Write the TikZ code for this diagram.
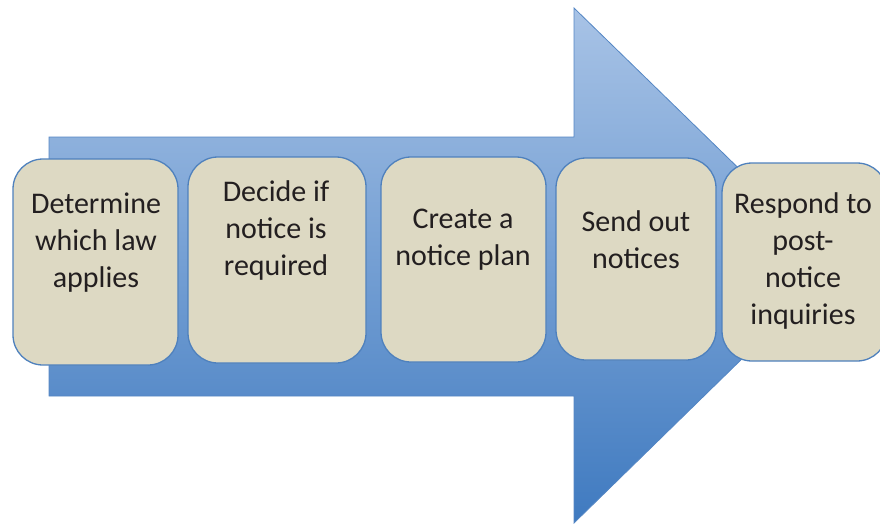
\documentclass[tikz,border=0pt]{standalone}
\usepackage{fontspec}
\setmainfont{Carlito}
\usepackage{tikz}
\usetikzlibrary{positioning}

\definecolor{arrowtop}{RGB}{168,195,230}
\definecolor{arrowbot}{RGB}{63,122,192}
\definecolor{arrowline}{RGB}{84,134,196}
\definecolor{stepfill}{RGB}{221,217,195}
\definecolor{stepline}{RGB}{79,129,189}
\definecolor{steptext}{RGB}{35,31,32}

\tikzset{
	stepbox/.style={draw=stepline, line width=1.3pt, fill=stepfill, rounded corners=30pt, inner sep=0pt},
	steplabel/.style={align=center, inner sep=0pt, text=steptext, font=\fontsize{30}{37}\selectfont}
}

\begin{document}
\begin{tikzpicture}[x=1pt,y=-1pt]
	\useasboundingbox (0,0) rectangle (880,525);

	\path[draw=arrowline, line width=0.8pt, top color=arrowtop, bottom color=arrowbot]
		(49,137) -- (574,137) -- (574,8) -- (838,265) -- (574,523) -- (574,396) -- (49,396) -- cycle;

	\node[stepbox, minimum width=165pt, minimum height=206pt] (b1) at (95.5,262) {};
	\node[stepbox, minimum width=178pt, minimum height=206pt] (b2) at (277,260) {};
	\node[stepbox, minimum width=165pt, minimum height=205pt] (b3) at (463.5,259.5) {};
	\node[stepbox, minimum width=160pt, minimum height=202pt] (b4) at (636,259) {};
	\node[stepbox, minimum width=165pt, minimum height=198pt] (b5) at (804.5,262) {};

	\node[steplabel] (t1) at (96,243) {Determine\\which law\\applies};
	\node[steplabel] (t2) at (276,230) {Decide if\\notice is\\required};
	\node[steplabel] (t3) at (463,240) {Create a\\notice plan};
	\node[steplabel] (t4) at (636,240) {Send out\\notices};
	\node[steplabel] (t5) at (803,261) {Respond to\\post-\\notice\\inquiries};
\end{tikzpicture}
\end{document}
